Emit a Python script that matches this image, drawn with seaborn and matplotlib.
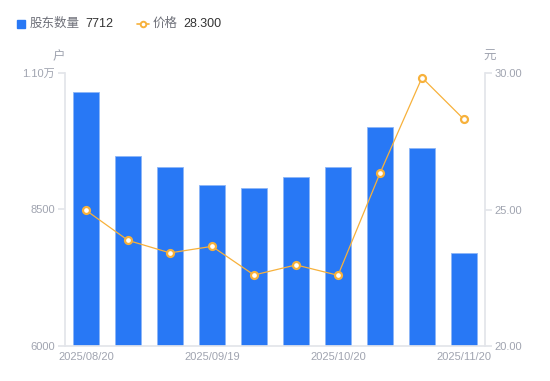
import matplotlib
matplotlib.use("Agg")
import matplotlib.pyplot as plt
import seaborn as sns
import pandas as pd
import numpy as np

dates = ["2025/08/20", "2025/08/31", "2025/09/10", "2025/09/19", "2025/09/30",
         "2025/10/10", "2025/10/20", "2025/10/31", "2025/11/10", "2025/11/20"]
holders = [10658, 9485, 9284, 8949, 8888, 9090, 9273, 10011, 9621, 7712]
price = [24.97, 23.87, 23.41, 23.65, 22.60, 22.97, 22.59, 26.33, 29.83, 28.30]
shown_labels = ["2025/08/20", "2025/09/19", "2025/10/20", "2025/11/20"]
left_ticks = [6000, 8500, 11000]
left_ticklabels = ["6000", "8500", "1.10万"]
right_ticks = [20, 25, 30]
right_ticklabels = ["20.00", "25.00", "30.00"]

df = pd.DataFrame({"date": dates, "holders": holders, "price": price})

sns.set_theme(style="white")
plt.rcParams['font.family'] = ['Liberation Sans', 'Noto Sans CJK SC', 'DejaVu Sans']

BLUE = "#2878F5"
ORANGE = "#F7B13B"
GRAY = "#A0A4B0"
AXC = "#E3E5EA"

fig = plt.figure(figsize=(5.5, 3.81), dpi=100)
ax = fig.add_axes([65/550, 1-346/381, 420/550, 273/381])

sns.barplot(data=df, x="date", y="holders", ax=ax, color=BLUE, width=0.6,
            saturation=1, edgecolor="#8DB6F7", linewidth=0.6)
ax.set_ylim(6000, 11000)
ax.set_xlim(-0.5, len(dates) - 0.5)

ax2 = ax.twinx()
sns.lineplot(x=np.arange(len(dates)), y=df["price"], ax=ax2, color=ORANGE, linewidth=0.9,
             marker="o", markersize=5, markerfacecolor="white", markeredgecolor=ORANGE,
             markeredgewidth=1.6)
ax2.set_ylim(20, 30)
ax2.set_xlim(-0.5, len(dates) - 0.5)

for a in (ax, ax2):
    for s in a.spines.values():
        s.set_visible(False)
    a.set_xlabel("")
    a.set_ylabel("")
    a.grid(False)

ax.spines["left"].set_visible(True)
ax.spines["left"].set_color(AXC)
ax.spines["bottom"].set_visible(True)
ax.spines["bottom"].set_color(AXC)
ax2.spines["right"].set_visible(True)
ax2.spines["right"].set_color(AXC)

ax.set_yticks(left_ticks)
ax.set_yticklabels(left_ticklabels)
ax.tick_params(axis="y", length=5, color=AXC, labelsize=8, labelcolor=GRAY, pad=2, left=True)
ax2.set_yticks(right_ticks)
ax2.set_yticklabels(right_ticklabels)
ax2.tick_params(axis="y", length=5, color=AXC, labelsize=8, labelcolor=GRAY, pad=2, right=True)

pos = [dates.index(d) for d in shown_labels]
ax.set_xticks(pos)
ax.set_xticklabels(shown_labels)
ax.tick_params(axis="x", length=0, labelsize=8, labelcolor=GRAY, pad=4)

# axis unit labels
fig.text(59/550, 1-57/381, "户", fontsize=9, color=GRAY, ha="center", va="center")
fig.text(490/550, 1-57/381, "元", fontsize=9, color=GRAY, ha="center", va="center")

# legend
fig.patches.append(plt.Rectangle((17/550, 1-28/381), 8/550, 8/381, transform=fig.transFigure,
                                 color=BLUE, figure=fig))
fig.text(30/550, 1-24/381, "股东数量", fontsize=9, color="#6E7079", ha="left", va="center")
fig.text(85/550, 1-24/381, f"{holders[-1]}", fontsize=9, color="#333333", ha="left", va="center")
fig.lines.append(plt.Line2D([137/550, 143/550, 149/550], [1-24/381] * 3, transform=fig.transFigure,
                            color=ORANGE, linewidth=1.2, marker="o", markersize=4,
                            markerfacecolor="white", markeredgecolor=ORANGE,
                            markeredgewidth=1.4, markevery=[1], figure=fig))
fig.text(153/550, 1-24/381, "价格", fontsize=9, color="#6E7079", ha="left", va="center")
fig.text(183/550, 1-24/381, f"{price[-1]:.3f}", fontsize=9, color="#333333", ha="left", va="center")

fig.savefig("out.png", dpi=100)
